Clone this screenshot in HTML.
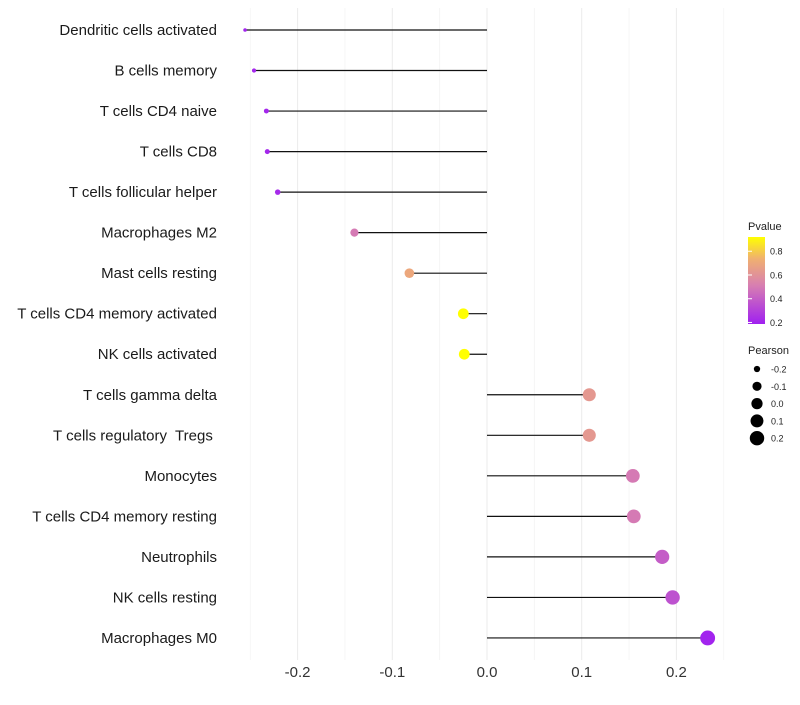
<!DOCTYPE html>
<html><head><meta charset="utf-8"><style>
body{margin:0;background:#fff;font-family:"Liberation Sans",sans-serif}
svg text{font-family:"Liberation Sans",sans-serif;white-space:pre}
</style></head><body>
<svg id="chart" width="800" height="700" xmlns="http://www.w3.org/2000/svg">
<defs><linearGradient id="pg" x1="0" y1="1" x2="0" y2="0">
<stop offset="0" stop-color="#a020f0"/><stop offset="0.45" stop-color="#d880b0"/><stop offset="0.75" stop-color="#f0b070"/><stop offset="1" stop-color="#ffff00"/></linearGradient></defs>
<g id="grid"></g><g id="marks"></g><g id="labels"></g><g id="legend"></g>
</svg>
<script>
const categories=["Dendritic cells activated","B cells memory","T cells CD4 naive","T cells CD8","T cells follicular helper","Macrophages M2","Mast cells resting","T cells CD4 memory activated","NK cells activated","T cells gamma delta","T cells regulatory  Tregs ","Monocytes","T cells CD4 memory resting","Neutrophils","NK cells resting","Macrophages M0"];
const pearson=[-0.2555,-0.246,-0.233,-0.232,-0.221,-0.140,-0.082,-0.025,-0.024,0.108,0.108,0.154,0.155,0.185,0.196,0.233];
const pvalue=[0.20,0.21,0.21,0.21,0.22,0.50,0.70,0.92,0.92,0.63,0.63,0.50,0.50,0.40,0.36,0.20];
const xTicks=[-0.2,-0.1,0,0.1,0.2];
const xTickLabels=["-0.2","-0.1","0.0","0.1","0.2"];
const colorTicks=[0.2,0.4,0.6,0.8];
const sizeTicks=[-0.2,-0.1,0.0,0.1,0.2];
const NS="http://www.w3.org/2000/svg";
const x=v=>487+v*947;
const y=i=>30+i*40.53;
const r=v=>Math.max(1.7,1.8+9.6*(Math.sqrt(Math.max(0,v+0.27))-0.122));
function lerp(a,b,t){return a.map((c,k)=>Math.round(c+(b[k]-c)*t));}
const stops=[[0.187,[160,32,240]],[0.52,[216,128,176]],[0.74,[240,176,112]],[0.92,[255,255,0]]];
function col(p){for(let k=0;k<stops.length-1;k++){if(p<=stops[k+1][0]){const t=Math.max(0,(p-stops[k][0])/(stops[k+1][0]-stops[k][0]));return "rgb("+lerp(stops[k][1],stops[k+1][1],t).join(",")+")";}}return "rgb(255,255,0)";}
function mk(tag,at,parent,txt){const e=document.createElementNS(NS,tag);for(const k in at)e.setAttribute(k,at[k]);if(txt!==undefined)e.textContent=txt;document.getElementById(parent).appendChild(e);return e;}
for(let v=-0.25;v<=0.251;v+=0.05){const major=Math.abs(Math.round(v*100)%10)===0;
 const g=mk("line",{x1:x(v),x2:x(v),y1:8,y2:660,stroke:major?"#ebebeb":"#f4f4f4","stroke-width":major?1:0.8},"grid");
 
 }
xTicks.forEach((t,i)=>{const e=mk("text",{x:x(t),y:677,"text-anchor":"middle","font-size":15,fill:"#333"},"labels",xTickLabels[i]);
 
 });
categories.forEach((c,i)=>{
 const t=mk("text",{x:217,y:y(i)+5,"text-anchor":"end","font-size":15,fill:"#1a1a1a"},"labels",c);
 
 
 const l=mk("line",{x1:x(0),x2:x(pearson[i]),y1:y(i),y2:y(i),stroke:"#111","stroke-width":1.2},"marks");
 
 
 const d=mk("circle",{cx:x(pearson[i]),cy:y(i),r:r(pearson[i]),fill:col(pvalue[i])},"marks");
 
 
});
const lt=mk("text",{x:748,y:230,"font-size":11,fill:"#222"},"legend","Pvalue");


const cb=mk("rect",{x:748,y:237,width:17,height:87,fill:"url(#pg)"},"legend");


const cy=p=>324-(p-0.187)/(0.92-0.187)*87;
colorTicks.forEach(p=>{
 const tl=mk("line",{x1:748,x2:752,y1:cy(p),y2:cy(p),stroke:"#fff"},"legend");
 
 
 const tx=mk("text",{x:770,y:cy(p)+3.5,"font-size":9,fill:"#222"},"legend",p.toFixed(1));
 
 });
const st=mk("text",{x:748,y:354,"font-size":11,fill:"#222"},"legend","Pearson");


sizeTicks.forEach((v,i)=>{const yy=369+i*17.3;
 const c=mk("circle",{cx:757,cy:yy,r:r(v),fill:"#000"},"legend");
 
 
 const tx=mk("text",{x:771,y:yy+3.5,"font-size":9,fill:"#222"},"legend",v.toFixed(1));
 
 });
</script>
</body></html>
